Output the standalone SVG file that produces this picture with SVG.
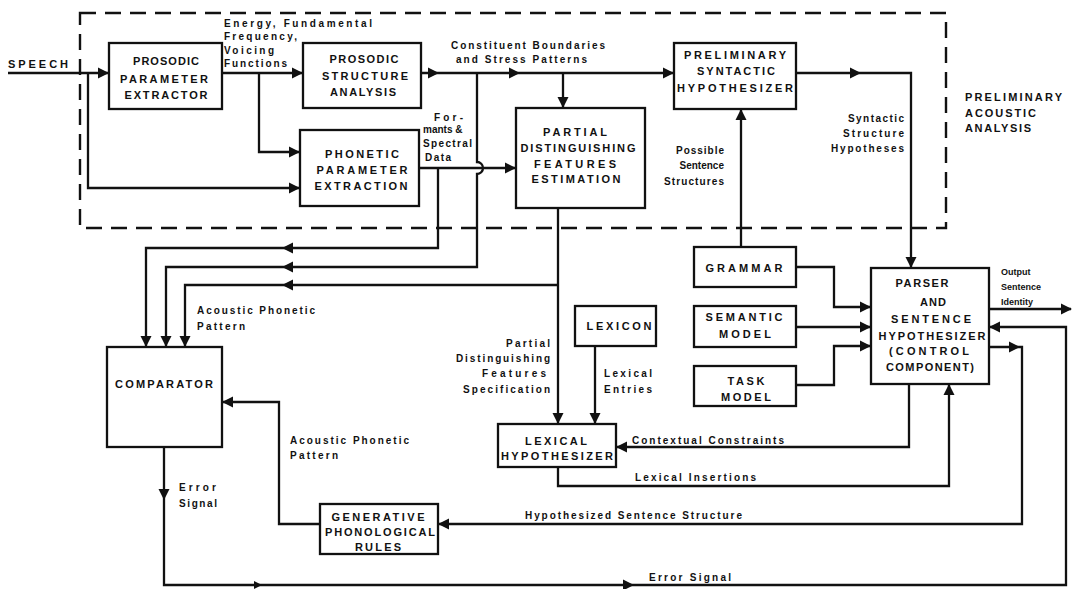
<svg xmlns="http://www.w3.org/2000/svg" xmlns:xlink="http://www.w3.org/1999/xlink" width="1074" height="589" viewBox="0 0 1074 589">
<style>
.ln{fill:none;stroke:#111;stroke-width:2.3;stroke-linejoin:miter}
.dash{fill:none;stroke:#111;stroke-width:2.4;stroke-dasharray:16 9}
.bx{fill:#fff;stroke:#111;stroke-width:2.3}
.t{font-family:"Liberation Sans",Arial,sans-serif;font-weight:bold;fill:#111}
.bt{font-size:11px;text-anchor:middle}
.lb{font-size:10px}
.r{text-anchor:end}
.sm{font-size:9px}
.ah{fill:#111}
</style>
<defs>
<path id="a" d="M0,0 L-11,-5.5 L-11,5.5 Z"/>
<path id="as" d="M0,0 L-8,-4 L-8,4 Z"/>
</defs>
<rect width="1074" height="589" fill="#fff"/>
<g id="boundary">
<rect class="dash" x="80" y="13" width="866" height="215"/>
<text class="t bt" x="965" y="101" style="text-anchor:start" textLength="97" lengthAdjust="spacing">PRELIMINARY</text>
<text class="t bt" x="965" y="117" style="text-anchor:start" textLength="71" lengthAdjust="spacing">ACOUSTIC</text>
<text class="t bt" x="965" y="132" style="text-anchor:start" textLength="66" lengthAdjust="spacing">ANALYSIS</text>
</g>
<g id="connectors">
<path class="ln" d="M8,73 H109"/>
<path class="ln" d="M88,73 V188 H300"/>
<path class="ln" d="M222,73 H303"/>
<path class="ln" d="M259,73 V152 H300"/>
<path class="ln" d="M421,73 H674"/>
<path class="ln" d="M563,73 V108"/>
<path class="ln" d="M477,73 V162 A6,6 0 0 1 477,174 V267 H166 V347"/>
<path class="ln" d="M419,168 H516"/>
<path class="ln" d="M438,168 V248 H146 V347"/>
<path class="ln" d="M558,208 V424"/>
<path class="ln" d="M558,285 H185 V347"/>
<path class="ln" d="M595,346 V424"/>
<path class="ln" d="M796,73 H911 V268"/>
<path class="ln" d="M741,247 V109"/>
<path class="ln" d="M796,267 H834 V307 H871"/>
<path class="ln" d="M796,327 H871"/>
<path class="ln" d="M796,385 H834 V346 H871"/>
<path class="ln" d="M989,309 H1071"/>
<path class="ln" d="M164,447 V585 H1066 V327 H989"/>
<path class="ln" d="M989,347 H1022 V524 H438"/>
<path class="ln" d="M909,384 V447 H616"/>
<path class="ln" d="M558,467 V486 H949 V384"/>
<path class="ln" d="M320,524 H279 V402 H222"/>
<g class="ah">
<use xlink:href="#a" transform="translate(109,73)"/>
<use xlink:href="#a" transform="translate(300,188)"/>
<use xlink:href="#a" transform="translate(303,73)"/>
<use xlink:href="#a" transform="translate(300,152)"/>
<use xlink:href="#a" transform="translate(439,73)"/>
<use xlink:href="#a" transform="translate(520,73)"/>
<use xlink:href="#a" transform="translate(674,73)"/>
<use xlink:href="#a" transform="translate(563,108) rotate(90)"/>
<use xlink:href="#a" transform="translate(516,168)"/>
<use xlink:href="#a" transform="translate(282,248) rotate(180)"/>
<use xlink:href="#a" transform="translate(282,267) rotate(180)"/>
<use xlink:href="#a" transform="translate(282,285) rotate(180)"/>
<use xlink:href="#a" transform="translate(146,347) rotate(90)"/>
<use xlink:href="#a" transform="translate(166,347) rotate(90)"/>
<use xlink:href="#a" transform="translate(185,347) rotate(90)"/>
<use xlink:href="#a" transform="translate(558,424) rotate(90)"/>
<use xlink:href="#a" transform="translate(595,424) rotate(90)"/>
<use xlink:href="#a" transform="translate(861,73)"/>
<use xlink:href="#a" transform="translate(911,268) rotate(90)"/>
<use xlink:href="#a" transform="translate(741,109) rotate(-90)"/>
<use xlink:href="#a" transform="translate(871,307)"/>
<use xlink:href="#a" transform="translate(871,327)"/>
<use xlink:href="#a" transform="translate(871,346)"/>
<use xlink:href="#a" transform="translate(1072,309)"/>
<use xlink:href="#a" transform="translate(164,500) rotate(90)"/>
<use xlink:href="#as" transform="translate(262,585)"/>
<use xlink:href="#a" transform="translate(634,585)"/>
<use xlink:href="#a" transform="translate(989,327) rotate(180)"/>
<use xlink:href="#a" transform="translate(1020,347)"/>
<use xlink:href="#a" transform="translate(438,524) rotate(180)"/>
<use xlink:href="#a" transform="translate(616,447) rotate(180)"/>
<use xlink:href="#a" transform="translate(949,384) rotate(-90)"/>
<use xlink:href="#a" transform="translate(222,402) rotate(180)"/>
</g>
<g id="labels">
<text class="t" style="font-size:11px" x="8" y="68" textLength="60" lengthAdjust="spacing">SPEECH</text>
<text class="t lb" x="224" y="27" textLength="148" lengthAdjust="spacing">Energy, Fundamental</text>
<text class="t lb" x="224" y="40" textLength="73" lengthAdjust="spacing">Frequency,</text>
<text class="t lb" x="224" y="54" textLength="50" lengthAdjust="spacing">Voicing</text>
<text class="t lb" x="224" y="67" textLength="63" lengthAdjust="spacing">Functions</text>
<text class="t lb" x="451" y="49" textLength="154" lengthAdjust="spacing">Constituent Boundaries</text>
<text class="t lb" x="456" y="63" textLength="131" lengthAdjust="spacing">and Stress Patterns</text>
<text class="t lb" x="434" y="121" textLength="29" lengthAdjust="spacing">For-</text>
<text class="t lb" x="423" y="133">mants &amp;</text>
<text class="t lb" x="423" y="147" textLength="49" lengthAdjust="spacing">Spectral</text>
<text class="t lb" x="425" y="161" textLength="26" lengthAdjust="spacing">Data</text>
<text class="t lb r" x="724" y="154" textLength="48" lengthAdjust="spacing">Possible</text>
<text class="t lb r" x="724" y="169">Sentence</text>
<text class="t lb r" x="724" y="185" textLength="60" lengthAdjust="spacing">Structures</text>
<text class="t lb r" x="904" y="122" textLength="56" lengthAdjust="spacing">Syntactic</text>
<text class="t lb r" x="904" y="137" textLength="61" lengthAdjust="spacing">Structure</text>
<text class="t lb r" x="904" y="152" textLength="73" lengthAdjust="spacing">Hypotheses</text>
<text class="t sm" x="1001" y="275">Output</text>
<text class="t sm" x="1001" y="290">Sentence</text>
<text class="t sm" x="1001" y="305">Identity</text>
<text class="t lb" x="197" y="314" textLength="118" lengthAdjust="spacing">Acoustic Phonetic</text>
<text class="t lb" x="197" y="330" textLength="48" lengthAdjust="spacing">Pattern</text>
<text class="t lb" x="290" y="444" textLength="119" lengthAdjust="spacing">Acoustic Phonetic</text>
<text class="t lb" x="290" y="459" textLength="48" lengthAdjust="spacing">Pattern</text>
<text class="t lb" x="179" y="491" textLength="37" lengthAdjust="spacing">Error</text>
<text class="t lb" x="179" y="507" textLength="38" lengthAdjust="spacing">Signal</text>
<text class="t lb r" x="550" y="347" textLength="44" lengthAdjust="spacing">Partial</text>
<text class="t lb r" x="550" y="362" textLength="94" lengthAdjust="spacing">Distinguishing</text>
<text class="t lb r" x="546" y="377" textLength="64" lengthAdjust="spacing">Features</text>
<text class="t lb r" x="550" y="393" textLength="87" lengthAdjust="spacing">Specification</text>
<text class="t lb" x="604" y="377" textLength="48" lengthAdjust="spacing">Lexical</text>
<text class="t lb" x="604" y="393" textLength="48" lengthAdjust="spacing">Entries</text>
<text class="t lb" x="632" y="444" textLength="152" lengthAdjust="spacing">Contextual Constraints</text>
<text class="t lb" x="635" y="481" textLength="121" lengthAdjust="spacing">Lexical Insertions</text>
<text class="t lb" x="525" y="519" textLength="217" lengthAdjust="spacing">Hypothesized Sentence Structure</text>
<text class="t lb" x="649" y="581" textLength="82" lengthAdjust="spacing">Error Signal</text>
</g>
</g>
<g id="prosodic-parameter-extractor">
<rect class="bx" x="109" y="43" width="113" height="66"/>
<text class="t bt" x="166" y="65" textLength="66" lengthAdjust="spacing">PROSODIC</text>
<text class="t bt" x="164" y="83" textLength="88" lengthAdjust="spacing">PARAMETER</text>
<text class="t bt" x="166" y="99" textLength="83" lengthAdjust="spacing">EXTRACTOR</text>
</g>
<g id="prosodic-structure-analysis">
<rect class="bx" x="303" y="43" width="118" height="65"/>
<text class="t bt" x="364" y="63" textLength="69" lengthAdjust="spacing">PROSODIC</text>
<text class="t bt" x="365" y="80" textLength="86" lengthAdjust="spacing">STRUCTURE</text>
<text class="t bt" x="363" y="96" textLength="66" lengthAdjust="spacing">ANALYSIS</text>
</g>
<g id="phonetic-parameter-extraction">
<rect class="bx" x="300" y="130" width="119" height="76"/>
<text class="t bt" x="362" y="158" textLength="74" lengthAdjust="spacing">PHONETIC</text>
<text class="t bt" x="362" y="174" textLength="91" lengthAdjust="spacing">PARAMETER</text>
<text class="t bt" x="361" y="190" textLength="93" lengthAdjust="spacing">EXTRACTION</text>
</g>
<g id="partial-distinguishing-features-estimation">
<rect class="bx" x="516" y="108" width="129" height="100"/>
<text class="t bt" x="575" y="136" textLength="64" lengthAdjust="spacing">PARTIAL</text>
<text class="t bt" x="578" y="152" textLength="115" lengthAdjust="spacing">DISTINGUISHING</text>
<text class="t bt" x="575" y="168" textLength="82" lengthAdjust="spacing">FEATURES</text>
<text class="t bt" x="576" y="183" textLength="89" lengthAdjust="spacing">ESTIMATION</text>
</g>
<g id="preliminary-syntactic-hypothesizer">
<rect class="bx" x="674" y="43" width="122" height="66"/>
<text class="t bt" x="735" y="59" textLength="102" lengthAdjust="spacing">PRELIMINARY</text>
<text class="t bt" x="736" y="75" textLength="78" lengthAdjust="spacing">SYNTACTIC</text>
<text class="t bt" x="735" y="92" textLength="116" lengthAdjust="spacing">HYPOTHESIZER</text>
</g>
<g id="grammar">
<rect class="bx" x="694" y="247" width="102" height="40"/>
<text class="t bt" x="744" y="272" textLength="77" lengthAdjust="spacing">GRAMMAR</text>
</g>
<g id="semantic-model">
<rect class="bx" x="694" y="306" width="102" height="41"/>
<text class="t bt" x="744" y="321" textLength="77" lengthAdjust="spacing">SEMANTIC</text>
<text class="t bt" x="745" y="338" textLength="52" lengthAdjust="spacing">MODEL</text>
</g>
<g id="task-model">
<rect class="bx" x="694" y="366" width="102" height="40"/>
<text class="t bt" x="746" y="385" textLength="37" lengthAdjust="spacing">TASK</text>
<text class="t bt" x="746" y="401" textLength="50" lengthAdjust="spacing">MODEL</text>
</g>
<g id="parser">
<rect class="bx" x="871" y="268" width="118" height="116"/>
<text class="t bt" x="922" y="287" textLength="53" lengthAdjust="spacing">PARSER</text>
<text class="t bt" x="933" y="306" textLength="26" lengthAdjust="spacing">AND</text>
<text class="t bt" x="931" y="323" textLength="80" lengthAdjust="spacing">SENTENCE</text>
<text class="t bt" x="932" y="340" textLength="107" lengthAdjust="spacing">HYPOTHESIZER</text>
<text class="t bt" x="929" y="355" textLength="80" lengthAdjust="spacing">(CONTROL</text>
<text class="t bt" x="930" y="371" textLength="88" lengthAdjust="spacing">COMPONENT)</text>
</g>
<g id="lexicon">
<rect class="bx" x="575" y="306" width="81" height="40"/>
<text class="t bt" x="619" y="330" textLength="65" lengthAdjust="spacing">LEXICON</text>
</g>
<g id="lexical-hypothesizer">
<rect class="bx" x="498" y="424" width="118" height="43"/>
<text class="t bt" x="556" y="445" textLength="62" lengthAdjust="spacing">LEXICAL</text>
<text class="t bt" x="557" y="460" textLength="112" lengthAdjust="spacing">HYPOTHESIZER</text>
</g>
<g id="comparator">
<rect class="bx" x="107" y="347" width="115" height="100"/>
<text class="t bt" x="164" y="388" textLength="98" lengthAdjust="spacing">COMPARATOR</text>
</g>
<g id="generative-phonological-rules">
<rect class="bx" x="320" y="504" width="118" height="50"/>
<text class="t bt" x="378" y="521" textLength="93" lengthAdjust="spacing">GENERATIVE</text>
<text class="t bt" x="380" y="536" textLength="110" lengthAdjust="spacing">PHONOLOGICAL</text>
<text class="t bt" x="378" y="551" textLength="46" lengthAdjust="spacing">RULES</text>
</g>
</svg>
